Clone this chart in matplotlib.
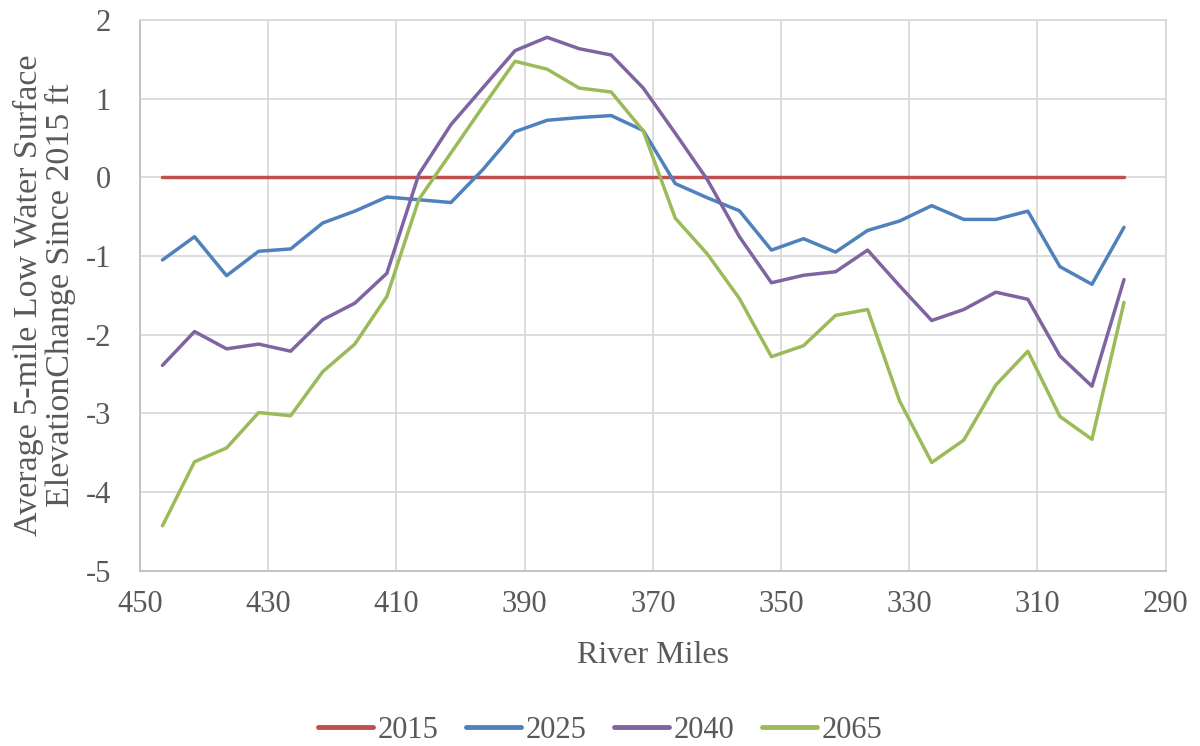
import numpy as np
import matplotlib
matplotlib.use("Agg")
import matplotlib.pyplot as plt

# river mile of each 5-mile reach (midpoints)
river_miles = [446.5, 441.5, 436.5, 431.5, 426.5, 421.5, 416.5, 411.5, 406.5, 401.5,
               396.5, 391.5, 386.5, 381.5, 376.5, 371.5, 366.5, 361.5, 356.5, 351.5,
               346.5, 341.5, 336.5, 331.5, 326.5, 321.5, 316.5, 311.5, 306.5, 301.5,
               296.5]

change_2015 = [0.0] * len(river_miles)
change_2025 = [-1.05, -0.755, -1.25, -0.94, -0.91, -0.58, -0.43, -0.25, -0.285, -0.32,
               0.10, 0.58, 0.725, 0.76, 0.785, 0.595, -0.08, -0.26, -0.425, -0.925,
               -0.78, -0.95, -0.675, -0.555, -0.36, -0.535, -0.535, -0.43, -1.135, -1.36,
               -0.635]
change_2040 = [-2.39, -1.96, -2.18, -2.12, -2.21, -1.81, -1.60, -1.22, 0.04, 0.67,
               1.14, 1.61, 1.78, 1.635, 1.555, 1.135, 0.56, -0.03, -0.755, -1.34,
               -1.245, -1.20, -0.925, -1.38, -1.82, -1.68, -1.46, -1.55, -2.27, -2.655,
               -1.30]
change_2065 = [-4.43, -3.615, -3.44, -2.99, -3.03, -2.47, -2.12, -1.515, -0.28, 0.31,
               0.90, 1.475, 1.375, 1.135, 1.085, 0.59, -0.52, -0.975, -1.54, -2.28,
               -2.14, -1.755, -1.68, -2.845, -3.625, -3.34, -2.64, -2.21, -3.04, -3.33,
               -1.59]

series = [("2015", change_2015, "#C0504D"),
          ("2025", change_2025, "#4F81BD"),
          ("2040", change_2040, "#8064A2"),
          ("2065", change_2065, "#9BBB59")]

x_ticks = np.arange(450, 289, -20)
y_ticks = np.arange(-5, 3, 1)

plt.rcParams["font.family"] = ["Liberation Serif", "DejaVu Serif"]
plt.rcParams["axes.unicode_minus"] = False
text_color = "#595959"
grid_color = "#D9D9D9"

fig = plt.figure(figsize=(12, 7.46), dpi=100)
ax = fig.add_axes([0.1167, 0.235, 0.8547, 0.7382])

for name, vals, color in series:
    ax.plot(river_miles, vals, color=color, linewidth=2.5, label=name,
            solid_capstyle="round", zorder=3)

ax.set_xlim(450, 290)
ax.set_ylim(-5, 2)
ax.set_xticks(x_ticks)
ax.set_yticks(y_ticks)
ax.grid(True, color=grid_color, linewidth=1.3, zorder=0)
for side in ["left", "right", "top", "bottom"]:
    ax.spines[side].set_color(grid_color)
    ax.spines[side].set_linewidth(1.3)
ax.spines["left"].set_color("#BFBFBF")
ax.spines["bottom"].set_color("#BFBFBF")
ax.tick_params(length=0, labelsize=22, labelcolor=text_color)
ax.tick_params(axis="x", pad=14)
ax.tick_params(axis="y", pad=21)

ax.set_xlabel("River Miles", fontsize=23, color=text_color, labelpad=16)
ax.set_ylabel("Average 5-mile Low Water Surface\nElevationChange Since 2015 ft",
              fontsize=24.5, color=text_color, labelpad=7, linespacing=1.05)

leg = fig.legend(loc="center", bbox_to_anchor=(0.5, 0.021), ncol=4, frameon=False,
                 fontsize=22, handlelength=1.8, columnspacing=0.9, handletextpad=0.15)
for t in leg.get_texts():
    t.set_color(text_color)
for h in leg.get_lines():
    h.set_linewidth(3.5)

fig.savefig("out.png", dpi=100)
